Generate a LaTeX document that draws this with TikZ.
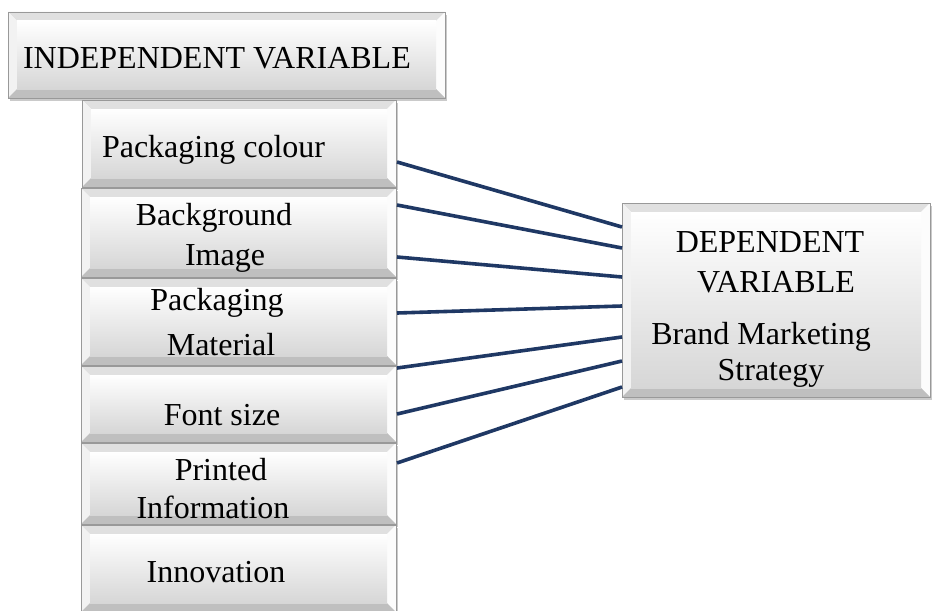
\documentclass[tikz,border=0pt]{standalone}
\usepackage{fontspec}
\setmainfont{Liberation Serif}
\usetikzlibrary{calc,shadows}
\definecolor{navy}{RGB}{31,56,100}
\tikzset{
  bbox/.style={draw=black!40, line width=0.5pt, inner sep=0pt, outer sep=0pt, fill=white,
    drop shadow={shadow xshift=2pt, shadow yshift=-3pt, opacity=0.35, fill=black!60},
    path picture={
      \coordinate (@a) at (path picture bounding box.north west);
      \coordinate (@b) at (path picture bounding box.south east);
      \coordinate (@c) at ($(@a)+(9,-9)$);
      \coordinate (@d) at ($(@b)+(-9,9)$);
      \fill[black!12] (@a) -- (@a -| @b) -- (@c -| @d) -- (@c) -- cycle;
      \fill[black!5] (@a) -- (@c) -- (@d -| @c) -- (@b -| @a) -- cycle;
      \fill[black!1] (@a -| @b) -- (@b) -- (@d) -- (@c -| @d) -- cycle;
      \fill[black!25] (@b -| @a) -- (@d -| @c) -- (@d) -- (@b) -- cycle;
      \shade[top color=white, bottom color=black!16] (@c) rectangle (@d);
    }},
  txt/.style={inner sep=0pt, outer sep=0pt, font=\fontsize{32}{38}\selectfont, text=black},
  link/.style={draw=navy, line width=3.6pt}
}
\begin{document}
\begin{tikzpicture}[x=1pt,y=1pt]
\useasboundingbox (0,0) rectangle (933,-610);
% boxes
\node[bbox, minimum width=437, minimum height=86] (iv) at (226.5,-55) {};
\node[bbox, minimum width=314, minimum height=87] (pc) at (239,-143.5) {};
\node[bbox, minimum width=315, minimum height=89] (bi) at (238.5,-232.5) {};
\node[bbox, minimum width=315, minimum height=87] (pm) at (238.5,-321.5) {};
\node[bbox, minimum width=315, minimum height=76] (fs) at (238.5,-404) {};
\node[bbox, minimum width=315, minimum height=81] (pi) at (238.5,-483.5) {};
\node[bbox, minimum width=315, minimum height=87] (inn) at (238.5,-568.5) {};
\node[bbox, minimum width=308, minimum height=194] (dv) at (776,-300) {};
% texts
\node[txt, anchor=base west] (ivt) at (23,-68) {INDEPENDENT VARIABLE};
\node[txt, anchor=base west] (pct) at (102,-157) {Packaging colour};
\node[txt, anchor=base] (bit1) at (214,-225) {Background};
\node[txt, anchor=base] (bit2) at (225,-265) {Image};
\node[txt, anchor=base] (pmt1) at (217,-310) {Packaging};
\node[txt, anchor=base] (pmt2) at (221,-355) {Material};
\node[txt, anchor=base] (fst) at (222,-425) {Font size};
\node[txt, anchor=base] (pit1) at (221,-480) {Printed};
\node[txt, anchor=base] (pit2) at (213,-518) {Information};
\node[txt, anchor=base] (innt) at (216,-582) {Innovation};
\node[txt, anchor=base] (dvt1) at (770,-252) {DEPENDENT};
\node[txt, anchor=base] (dvt2) at (776,-292) {VARIABLE};
\node[txt, anchor=base] (dvt3) at (761,-344) {Brand Marketing};
\node[txt, anchor=base] (dvt4) at (771,-380) {Strategy};
% connector end points
\coordinate (a1) at (397,-162); \coordinate (b1) at (622,-227);
\coordinate (a2) at (397,-205); \coordinate (b2) at (622,-248);
\coordinate (a3) at (397,-257); \coordinate (b3) at (622,-277);
\coordinate (a4) at (397,-313); \coordinate (b4) at (622,-306);
\coordinate (a5) at (397,-368); \coordinate (b5) at (622,-337);
\coordinate (a6) at (397,-414); \coordinate (b6) at (622,-361);
\coordinate (a7) at (397,-463); \coordinate (b7) at (622,-387);
\foreach \i in {1,...,7} { \draw[link] (a\i) -- (b\i); }
\end{tikzpicture}
\end{document}
